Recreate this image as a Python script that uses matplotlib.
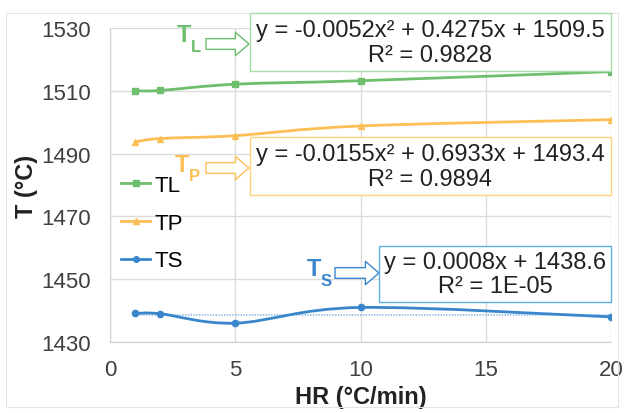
import matplotlib.pyplot as plt
import numpy as np
from matplotlib.path import Path
import matplotlib.patches as mpatches

plt.rcParams['font.family'] = ['Liberation Sans', 'DejaVu Sans']

hr = [1, 2, 5, 10, 20]
tl = [1510.0, 1510.1, 1512.1, 1513.2, 1516.1]
tp = [1493.7, 1494.8, 1495.7, 1498.8, 1500.8]
ts = [1439.1, 1439.0, 1436.0, 1441.0, 1438.0]

ts_fit = (0.0008, 1438.6)

green = '#6dbf6d'
orange = '#fdbf55'
blue = '#3a86cc'


def smooth_path(x, y):
    # excel-like smoothed line: bezier through the points
    p = np.column_stack([x, y]).astype(float)
    n = len(p)
    verts = [p[0]]
    codes = [Path.MOVETO]
    for i in range(n - 1):
        p0 = p[i - 1] if i > 0 else p[i]
        p3 = p[i + 2] if i + 2 < n else p[i + 1]
        c1 = p[i] + (p[i + 1] - p0) / 6
        c2 = p[i + 1] - (p3 - p[i]) / 6
        verts += [c1, c2, p[i + 1]]
        codes += [Path.CURVE4] * 3
    return Path(verts, codes)


fig = plt.figure(figsize=(6.24, 4.14), dpi=100)
ax = fig.add_axes([0.1763, 0.1715, 0.8029, 0.7585])

# chart border
fig.patches.append(mpatches.Rectangle((6 / 624, 6 / 414), 612 / 624, 394 / 414,
                                      transform=fig.transFigure, fill=False,
                                      ec='#e4e4e4', lw=0.8))

for vals, col, mk, name in [(tl, green, 's', 'TL'), (tp, orange, '^', 'TP'), (ts, blue, 'o', 'TS')]:
    ax.add_patch(mpatches.PathPatch(smooth_path(hr, vals), fill=False, ec=col, lw=2, zorder=3))
    ax.plot(hr, vals, linestyle='none', marker=mk, color=col, ms=4.5, zorder=4)
    ax.plot([], [], color=col, marker=mk, ms=4, lw=2, label=name)

xf = np.array([1, 20])
ax.plot(xf, ts_fit[0] * xf + ts_fit[1], color=blue, ls=(0, (1, 1)), lw=1, alpha=0.7, zorder=2)

ax.set_xlim(0, 20)
ax.set_ylim(1430, 1530)
ax.set_xticks([0, 5, 10, 15, 20])
ax.set_yticks(np.arange(1430, 1531, 20))
ax.grid(True, color='#dcdcdc', lw=1)
ax.set_axisbelow(True)
for s in ['top', 'right']:
    ax.spines[s].set_visible(False)
for s in ['left', 'bottom']:
    ax.spines[s].set_color('#d0d0d0')
ax.tick_params(length=0, labelsize=16, colors='#404040')
ax.tick_params(axis='y', pad=14)
ax.tick_params(axis='x', pad=12)
ax.set_xlabel('HR (°C/min)', fontsize=17, fontweight='bold', color='#222222', labelpad=4)
ax.set_ylabel('T (°C)', fontsize=17, fontweight='bold', color='#222222', labelpad=2)

ax.legend(loc='upper left', bbox_to_anchor=(0.005, 0.56), frameon=False, fontsize=16,
          handlelength=1.3, handletextpad=0.2, labelspacing=0.75, borderaxespad=0)

# equation boxes (figure pixel coords, top-origin)
def fig_box(x0, y0, x1, y1, col, lines):
    fig.patches.append(mpatches.Rectangle((x0 / 624, 1 - y1 / 414), (x1 - x0) / 624, (y1 - y0) / 414,
                                          transform=fig.transFigure, fc='white', ec=col, lw=1, zorder=5))
    cx = (x0 + x1) / 2 / 624
    h = (y1 - y0) / 414
    fig.text(cx, 1 - y0 / 414 - h * 0.29, lines[0], ha='center', va='center', fontsize=17, color='#222222', zorder=6)
    fig.text(cx, 1 - y0 / 414 - h * 0.72, lines[1], ha='center', va='center', fontsize=17, color='#222222', zorder=6)


fig_box(250, 14, 611, 72, '#a8dca8', ['y = -0.0052x² + 0.4275x + 1509.5', 'R² = 0.9828'])
fig_box(250, 138, 611, 196, '#ffd27a', ['y = -0.0155x² + 0.6933x + 1493.4', 'R² = 0.9894'])
fig_box(379, 247, 611, 303, '#5aaee0', ['y = 0.0008x + 1438.6', 'R² = 1E-05'])


def tag(x, y, main, sub, col, ax0, ax1, ay):
    fig.text(x / 624, 1 - y / 414, main, fontsize=17, fontweight='bold', color=col, ha='left', va='center')
    fig.text((x + 14) / 624, 1 - (y + 11) / 414, sub, fontsize=12, fontweight='bold', color=col, ha='left', va='center')
    ax.annotate('', xy=(ax1, 414 - ay), xytext=(ax0, 414 - ay), xycoords='figure pixels',
                textcoords='figure pixels',
                arrowprops=dict(arrowstyle='simple,head_length=0.7,head_width=1.2,tail_width=0.55',
                                fc='white', ec=col, lw=1, shrinkA=0, shrinkB=0, mutation_scale=14))


tag(177, 36, 'T', 'L', green, 206, 249, 45)
tag(175, 166, 'T', 'P', orange, 206, 249, 169)
tag(307, 270, 'T', 'S', blue, 335, 379, 274)

fig.savefig('out.png', dpi=100)
